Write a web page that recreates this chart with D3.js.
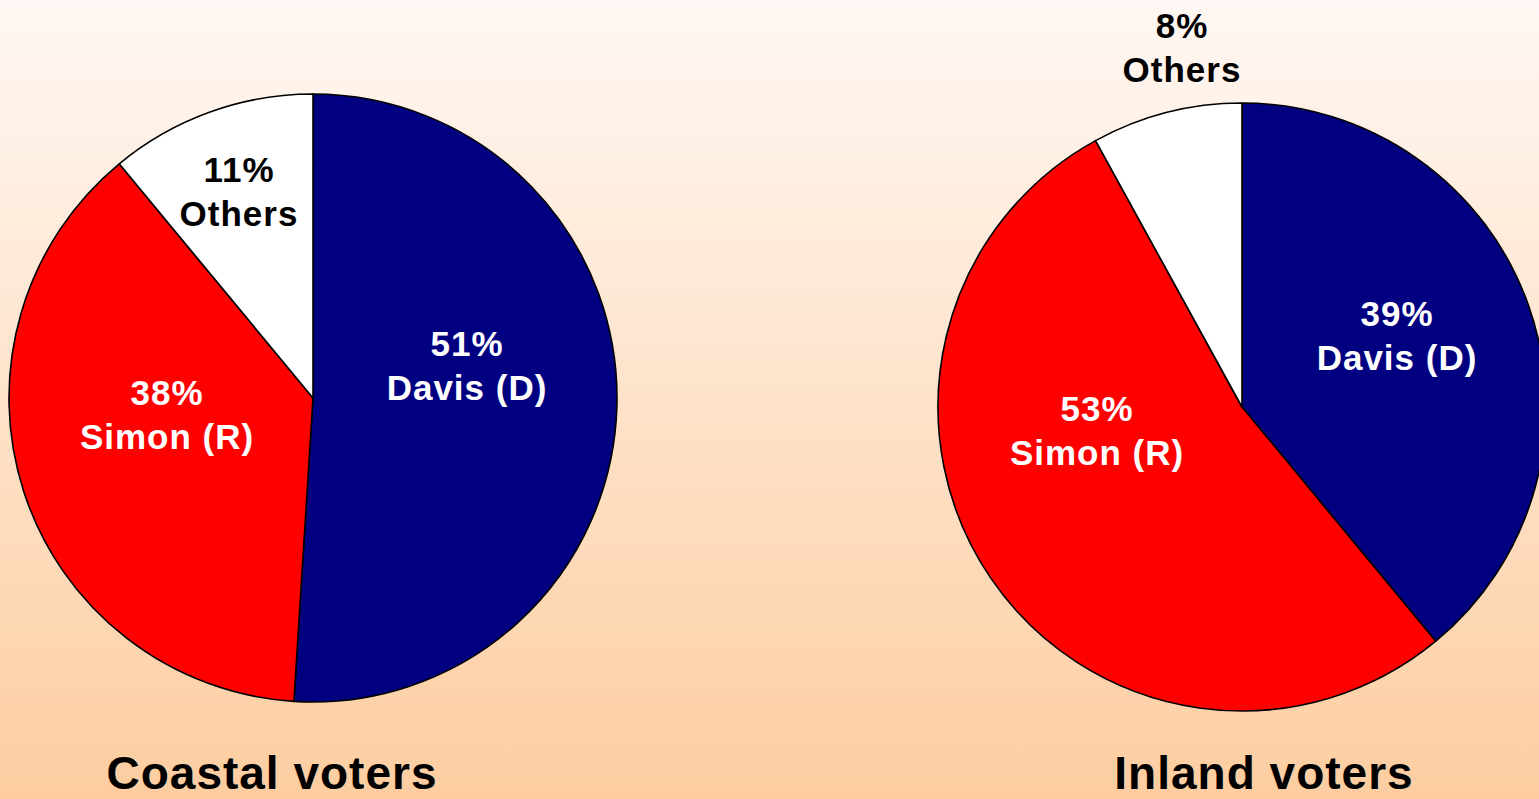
<!DOCTYPE html>
<html>
<head>
<meta charset="utf-8">
<script src="https://cdn.jsdelivr.net/npm/d3@7"></script>
<style>
  html, body { margin: 0; padding: 0; overflow: hidden; }
  svg { display: block; font-family: Arial, "Liberation Sans", Helvetica, sans-serif; font-weight: bold; }
</style>
</head>
<body>
<script>
var width = 1539,
    height = 799;

// data
var candidates = ["Davis (D)", "Simon (R)", "Others"];
var colors = ["#000080", "#ff0000", "#ffffff"];
var textColors = ["#ffffff", "#ffffff", "#000000"];
var coastalShare = [51, 38, 11];
var inlandShare = [39, 53, 8];
var groupTitles = ["Coastal voters", "Inland voters"];

// layout (not data): pie centres, and where each label sits relative to its pie centre
var pies = [
  { title: groupTitles[0], values: coastalShare, cx: 313, cy: 398, titleX: 272,
    labelAt: [[154, -42], [-146, 7], [-74, -216]] },
  { title: groupTitles[1], values: inlandShare, cx: 1242, cy: 407, titleX: 1264,
    labelAt: [[155, -81], [-145, 14], [-60, -369]] }
];
var radius = 304;

var svg = d3.select("body").append("svg")
    .attr("width", width)
    .attr("height", height);

var grad = svg.append("defs").append("linearGradient")
    .attr("id", "bg")
    .attr("x1", 0).attr("y1", 0).attr("x2", 0).attr("y2", 1);
grad.append("stop").attr("offset", "0%").attr("stop-color", "#fff8f4");
grad.append("stop").attr("offset", "100%").attr("stop-color", "#fdcda0");

svg.append("rect")
    .attr("width", width)
    .attr("height", height)
    .attr("fill", "url(#bg)");

var pie = d3.pie().sort(null);
var arc = d3.arc().innerRadius(0).outerRadius(radius);

pies.forEach(function(p) {
  var g = svg.append("g")
      .attr("transform", "translate(" + p.cx + "," + p.cy + ")");

  var slices = pie(p.values);

  g.selectAll("path")
    .data(slices)
    .enter()
    .append("path")
    .attr("d", arc)
    .attr("fill", function(d, i) { return colors[i]; })
    .attr("stroke", "#000")
    .attr("stroke-width", 1.6)
    .attr("stroke-linejoin", "round");

  var labels = g.selectAll("text.lbl")
    .data(slices)
    .enter()
    .append("text")
    .attr("class", "lbl")
    .attr("text-anchor", "middle")
    .attr("font-size", 35)
    .attr("letter-spacing", 1)
    .attr("fill", function(d, i) { return textColors[i]; })
    .attr("transform", function(d, i) {
      return "translate(" + p.labelAt[i][0] + "," + p.labelAt[i][1] + ")";
    });

  labels.append("tspan")
    .attr("x", 0).attr("y", 0)
    .text(function(d) { return d.data + "%"; });
  labels.append("tspan")
    .attr("x", 0).attr("y", 44)
    .text(function(d, i) { return candidates[i]; });

  svg.append("text")
    .attr("x", p.titleX)
    .attr("y", 789)
    .attr("text-anchor", "middle")
    .attr("font-size", 46)
    .attr("letter-spacing", 1)
    .attr("fill", "#000")
    .text(p.title);
});
</script>
</body>
</html>
